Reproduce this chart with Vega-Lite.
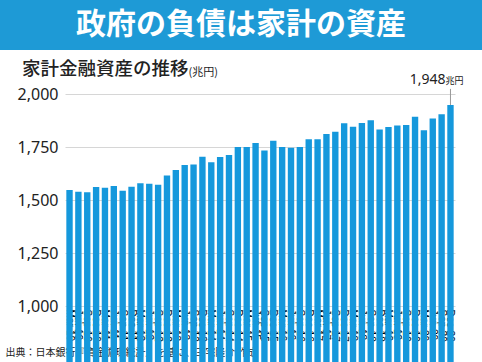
{
  "$schema": "https://vega.github.io/schema/vega-lite/v6.json",
  "padding": 0,
  "background": "white",
  "spacing": 9,
  "config": {"view": {"stroke": null}, "font": "Noto Sans CJK JP"},
  "datasets": {
    "header": [{"t": "政府の負債は家計の資産"}],
    "assets": [
      {"q": "Mar-10", "v": 1547}, {"q": "Jun-10", "v": 1539}, {"q": "Sep-10", "v": 1536}, {"q": "Dec-10", "v": 1561},
      {"q": "Mar-11", "v": 1558}, {"q": "Jun-11", "v": 1566}, {"q": "Sep-11", "v": 1544}, {"q": "Dec-11", "v": 1563},
      {"q": "Mar-12", "v": 1579}, {"q": "Jun-12", "v": 1577}, {"q": "Sep-12", "v": 1572}, {"q": "Dec-12", "v": 1615},
      {"q": "Mar-13", "v": 1642}, {"q": "Jun-13", "v": 1665}, {"q": "Sep-13", "v": 1668}, {"q": "Dec-13", "v": 1704},
      {"q": "Mar-14", "v": 1678}, {"q": "Jun-14", "v": 1703}, {"q": "Sep-14", "v": 1712}, {"q": "Dec-14", "v": 1750},
      {"q": "Mar-15", "v": 1750}, {"q": "Jun-15", "v": 1769}, {"q": "Sep-15", "v": 1734}, {"q": "Dec-15", "v": 1780},
      {"q": "Mar-16", "v": 1750}, {"q": "Jun-16", "v": 1747}, {"q": "Sep-16", "v": 1750}, {"q": "Dec-16", "v": 1786},
      {"q": "Mar-17", "v": 1786}, {"q": "Jun-17", "v": 1811}, {"q": "Sep-17", "v": 1822}, {"q": "Dec-17", "v": 1862},
      {"q": "Mar-18", "v": 1846}, {"q": "Jun-18", "v": 1863}, {"q": "Sep-18", "v": 1876}, {"q": "Dec-18", "v": 1832},
      {"q": "Mar-19", "v": 1844}, {"q": "Jun-19", "v": 1851}, {"q": "Sep-19", "v": 1854}, {"q": "Dec-19", "v": 1893},
      {"q": "Mar-20", "v": 1829}, {"q": "Jun-20", "v": 1885}, {"q": "Sep-20", "v": 1904}, {"q": "Dec-20", "v": 1948}
    ]
  },
  "vconcat": [
    {
      "width": 482,
      "height": 50,
      "view": {"fill": "#1e9ad6", "stroke": null},
      "data": {"name": "header"},
      "mark": {"type": "text", "fontSize": 30, "fontWeight": "bold", "color": "white", "baseline": "middle", "align": "center", "font": "Noto Sans CJK JP"},
      "encoding": {"text": {"field": "t"}}
    },
    {
      "spacing": 4,
      "hconcat": [
        {
          "width": 1,
          "height": 212,
          "data": {"values": []},
          "mark": "text",
          "encoding": {}
        },
        {
          "width": 390,
          "height": 212,
          "data": {"name": "assets"},
          "title": {
            "text": "家計金融資産の推移",
            "anchor": "start",
            "frame": "group",
            "dx": -43,
            "offset": -27,
            "baseline": "alphabetic",
            "fontSize": 18.5,
            "fontWeight": 500,
            "color": "#222222",
            "font": "Noto Sans CJK JP"
          },
          "encoding": {
            "x": {
              "field": "q",
              "type": "ordinal",
              "sort": null,
              "scale": {"paddingInner": 0.28, "paddingOuter": 0.15},
              "axis": {
                "title": "出典：日本銀行『資金循環統計』を基に、三宅隆介 作成",
                "titleAnchor": "start",
                "titleAlign": "left",
                "titleX": -60,
                "titleFontSize": 10,
                "titleFontWeight": "normal",
                "titleColor": "#222222",
                "titleFont": "Noto Sans CJK JP",
                "titlePadding": 6,
                "labelAngle": 90,
                "labelAlign": "left",
                "labelBaseline": "middle",
                "labelFont": "Liberation Sans",
                "labelFontSize": 10,
                "labelColor": "#000000",
                "labelPadding": 3,
                "labelOverlap": false,
                "ticks": false,
                "domain": false
              }
            },
            "y": {
              "field": "v",
              "type": "quantitative",
              "scale": {"domain": [1000, 2000], "zero": false, "nice": false},
              "axis": {
                "values": [1000, 1250, 1500, 1750, 2000],
                "format": ",d",
                "grid": true,
                "gridColor": "#d6d6d6",
                "domain": false,
                "ticks": false,
                "labelFont": "Noto Sans",
                "labelFontSize": 16,
                "labelColor": "#222222",
                "labelPadding": 7,
                "title": "(兆円)",
                "titleAngle": 0,
                "titleAlign": "left",
                "titleBaseline": "alphabetic",
                "titleX": 123,
                "titleY": -19,
                "titleFontSize": 11,
                "titleFontWeight": "normal",
                "titleColor": "#222222",
                "titleFont": "Noto Sans CJK JP"
              }
            }
          },
          "layer": [
            {
              "mark": {"type": "bar", "color": "#1598dc"}
            },
            {
              "transform": [{"filter": "datum.q == 'Dec-20'"}],
              "mark": {"type": "rule", "color": "#999999", "strokeWidth": 1},
              "encoding": {
                "y2": {"datum": 2024}
              }
            },
            {
              "transform": [{"filter": "datum.q == 'Dec-20'"}],
              "mark": {"type": "text", "align": "right", "baseline": "alphabetic", "dx": -5, "dy": -21, "fontSize": 14, "font": "Noto Sans", "color": "#222222"},
              "encoding": {
                "text": {"field": "v", "type": "quantitative", "format": ","}
              }
            },
            {
              "transform": [{"filter": "datum.q == 'Dec-20'"}],
              "mark": {"type": "text", "align": "left", "baseline": "alphabetic", "dx": -5, "dy": -21, "fontSize": 9, "font": "Noto Sans CJK JP", "color": "#222222"},
              "encoding": {
                "text": {"value": "兆円"}
              }
            }
          ]
        }
      ]
    }
  ]
}
